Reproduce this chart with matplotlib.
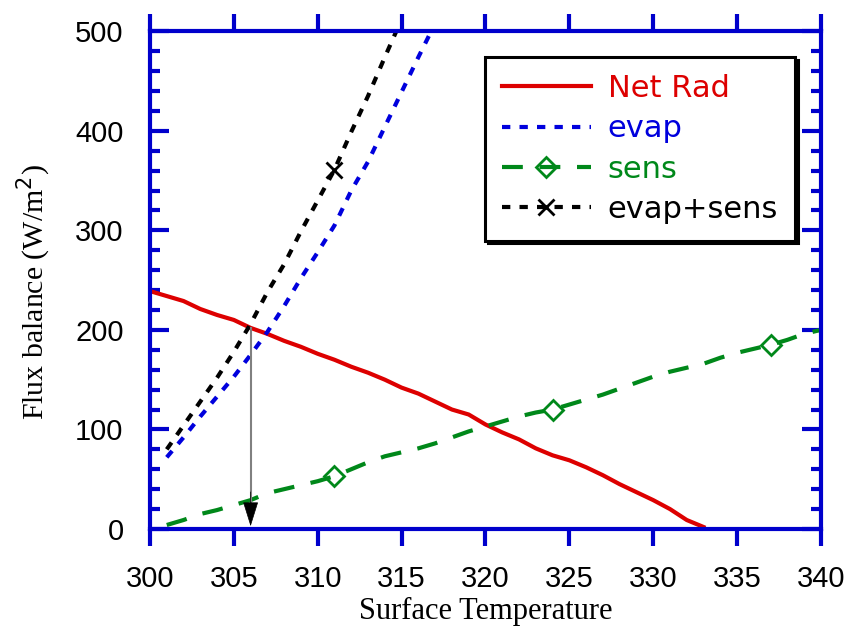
import numpy as np
import matplotlib
matplotlib.use('Agg')
import matplotlib.pyplot as plt
from matplotlib.ticker import MultipleLocator

# surface temperature (K) and flux terms (W/m2)
t_net = np.arange(300, 334)
net_rad = [239, 234, 229, 221, 215, 210, 202, 196, 189, 183, 176, 170, 163, 157,
           150, 142, 136, 128, 120, 115, 105, 97, 90, 81, 74, 69, 62, 54, 45, 37,
           29, 20, 9, 2]

t_evap = np.arange(301, 318)
evap = [72, 92, 113, 133, 153, 175, 198, 224, 252, 278, 305, 340, 369, 404, 439,
        474, 508]

t_sens = np.arange(301, 341)
sens = [4, 9, 15, 19, 24, 29, 36, 40, 44, 48, 53, 60, 67, 73, 77, 81, 86, 92, 98,
        103, 108, 113, 117, 120, 125, 130, 135, 141, 147, 153, 158, 162, 166, 172,
        177, 181, 185, 190, 196, 200]

t_tot = np.arange(301, 316)
evap_sens = [80, 104, 128, 152, 178, 206, 238, 266, 299, 330, 361, 399, 435, 474, 512]

arrow_t = 306  # where net radiation meets evap+sens

blue = '#0000CC'
fig = plt.figure(figsize=(8.58, 6.26), dpi=100)
ax = fig.add_axes([0.1748, 0.155, 0.782, 0.795])

ax.plot(t_net, net_rad, color='#DD0000', lw=3, label='Net Rad')
ax.plot(t_evap, evap, color='#0000DD', lw=3, dashes=(2, 2.2), label='evap')
ax.plot(t_sens, sens, color='#00881A', lw=3, dashes=(5, 4), marker='D',
        markersize=10, mfc='none', mec='#00881A', mew=2,
        markevery=[10, 23, 36], label='sens')
ax.plot(t_tot, evap_sens, color='black', lw=3, dashes=(2, 2.2), marker='x',
        markersize=12, mew=2, markevery=[10], label='evap+sens')

y_top = np.interp(arrow_t, t_net, net_rad)
ax.plot([arrow_t, arrow_t], [y_top, 15], color='gray', lw=1.5)
ax.annotate('', xy=(arrow_t, 0), xytext=(arrow_t, 40),
            arrowprops=dict(arrowstyle='-|>,head_length=1.6,head_width=0.5',
                            color='black', lw=0.5))

ax.set_xlim(300, 340)
ax.set_ylim(0, 500)
ax.xaxis.set_major_locator(MultipleLocator(5))
ax.yaxis.set_major_locator(MultipleLocator(100))
ax.yaxis.set_minor_locator(MultipleLocator(20))
ax.tick_params(axis='x', direction='out', length=12, width=3, color=blue,
               top=True, labelsize=21, pad=14)
ax.tick_params(axis='y', which='major', direction='in', length=14, width=3,
               color=blue, right=True, labelsize=21, pad=19)
ax.tick_params(axis='y', which='minor', direction='in', length=7, width=3,
               color=blue, right=True)
for lab in ax.get_xticklabels() + ax.get_yticklabels():
    lab.set_family('Liberation Sans')
for s in ax.spines.values():
    s.set_color(blue)
    s.set_linewidth(3)

ax.set_xlabel('Surface Temperature', family='Liberation Serif', fontsize=22)
ax.set_ylabel('Flux balance (W/m$^2$)', family='Liberation Serif', fontsize=21.5)
ax.xaxis.set_label_coords(0.5, -0.137)
ax.yaxis.set_label_coords(-0.145, 0.476)

leg = ax.legend(loc='upper right', bbox_to_anchor=(0.961, 0.948), fontsize=22,
                handlelength=2.9, handletextpad=0.55, labelspacing=0.37,
                numpoints=1, fancybox=False, borderpad=0.55, borderaxespad=0,
                shadow={'color': 'black', 'alpha': 1})
leg.get_frame().set_edgecolor('black')
leg.get_frame().set_linewidth(2.2)
for txt, ln in zip(leg.get_texts(), leg.get_lines()):
    txt.set_color(ln.get_color())

fig.savefig('out.png', dpi=100)
